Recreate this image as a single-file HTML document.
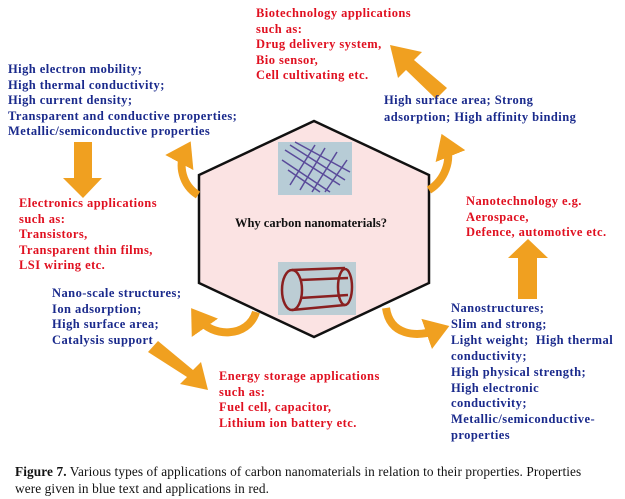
<!DOCTYPE html>
<html><head><meta charset="utf-8"><style>
body{margin:0;width:625px;height:499px;background:#fff;position:relative;overflow:hidden;font-family:"Liberation Serif",serif;}
.t{position:absolute;font-weight:bold;font-size:12.5px;letter-spacing:0.45px;line-height:15.6px;white-space:nowrap;}
.b{color:#1a2a8c}.r{color:#e01020}
.cap{position:absolute;left:15px;font-size:13.3px;letter-spacing:0.1px;line-height:17px;color:#111;white-space:nowrap}
</style></head><body>
<svg width="625" height="499" style="position:absolute;left:0;top:0">
<defs><marker id="h" markerWidth="4" markerHeight="4" refX="1.5" refY="2" orient="auto"><path d="M0,0 L3,2 L0,4z" fill="#f0a020"/></marker></defs>
<polygon points="314,121 429,175 429,283 314,337 199,283 199,175" fill="#fbe3e3" stroke="#111" stroke-width="2.5"/>
<rect x="278" y="142" width="74" height="53" fill="#b7ccd6"/>
<g stroke="#5a4a9a" stroke-width="1.5" fill="none">
<path d="M285,150 L340,185 M290,145 L345,180 M282,160 L330,192 M295,142 L350,172 M288,170 L320,192"/>
<path d="M290,185 L315,145 M300,190 L325,148 M312,192 L337,152 M325,192 L347,160"/>
</g>
<rect x="278" y="262" width="78" height="53" fill="#bccdd4"/>
<g stroke="#8a2020" stroke-width="2.5" fill="none">
<ellipse cx="292" cy="290" rx="10" ry="20"/><path d="M292,270 L345,268 M292,310 L345,305 M300,280 L348,278 M300,298 L348,295"/>
<ellipse cx="345" cy="287" rx="7" ry="18"/>
</g>
<text x="311" y="227" text-anchor="middle" font-family="Liberation Serif" font-weight="bold" font-size="12.5" fill="#111">Why carbon nanomaterials?</text>
<g fill="#f0a020">
<polygon points="74,142 92,142 92,178 102,178 83,198 63,178 74,178"/>
<polygon points="518,299 537,299 537,258 548,258 528,239 508,258 518,258"/>
<polygon points="447,88 436,99 406,70 398,78 390,45 422,52 414,60"/>
<polygon points="148,352 158,341 193,370 201,362 208,390 180,384 187,377"/>
</g>
<g stroke="#f0a020" stroke-width="8" fill="none" marker-end="url(#h)">
<path d="M198,195 C182,185 178,165 185,152"/>
<path d="M429,190 C445,180 452,160 446,145"/>
<path d="M256,312 C248,338 212,338 198,318"/>
<path d="M386,308 C390,335 415,338 438,330"/>
</g>
</svg>
<div class="t r" style="left:256px;top:6px">Biotechnology applications<br>such as:<br>Drug delivery system,<br>Bio sensor,<br>Cell cultivating etc.</div>
<div class="t b" style="left:8px;top:62px">High electron mobility;<br>High thermal conductivity;<br>High current density;<br>Transparent and conductive properties;<br>Metallic/semiconductive properties</div>
<div class="t b" style="left:384px;top:92px;line-height:17px">High surface area; Strong<br>adsorption; High affinity binding</div>
<div class="t r" style="left:19px;top:196px">Electronics applications<br>such as:<br>Transistors,<br>Transparent thin films,<br>LSI wiring etc.</div>
<div class="t r" style="left:466px;top:194px">Nanotechnology e.g.<br>Aerospace,<br>Defence, automotive etc.</div>
<div class="t b" style="left:52px;top:286px">Nano-scale structures;<br>Ion adsorption;<br>High surface area;<br>Catalysis support</div>
<div class="t r" style="left:219px;top:369px">Energy storage applications<br>such as:<br>Fuel cell, capacitor,<br>Lithium ion battery etc.</div>
<div class="t b" style="left:451px;top:301px;line-height:15.9px">Nanostructures;<br>Slim and strong;<br>Light weight;&nbsp; High thermal<br>conductivity;<br>High physical strength;<br>High electronic<br>conductivity;<br>Metallic/semiconductive-<br>properties</div>
<div class="cap" style="top:463px"><b>Figure 7.</b> Various types of applications of carbon nanomaterials in relation to their properties. Properties</div>
<div class="cap" style="top:480px">were given in blue text and applications in red.</div>
</body></html>
